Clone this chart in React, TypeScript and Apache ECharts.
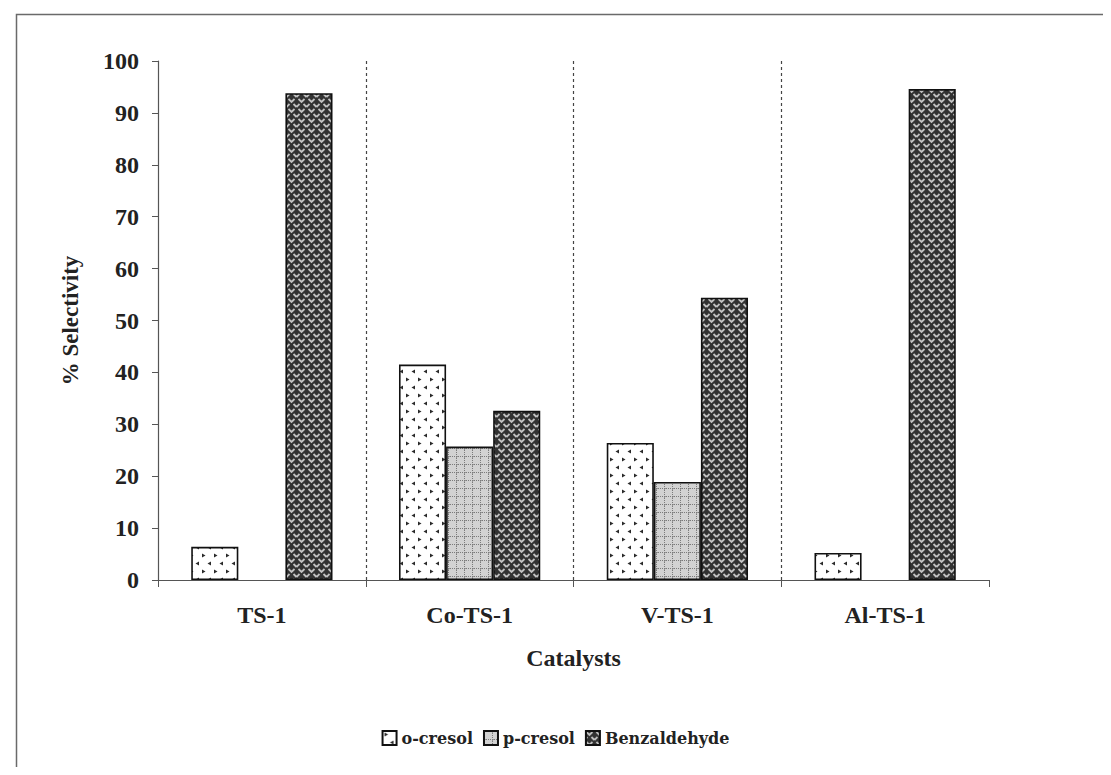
import React, { useEffect, useRef } from "react";
import * as echarts from "echarts";

const categories = ["TS-1", "Co-TS-1", "V-TS-1", "Al-TS-1"];
const seriesNames = ["o-cresol", "p-cresol", "Benzaldehyde"];
const oCresol = [6.4, 41.5, 26.4, 5.2];
const pCresol = [null, 25.7, 18.9, null];
const benzaldehyde = [93.8, 32.6, 54.4, 94.6];
const yTicks = { min: 0, max: 100, interval: 10 };
const boundaries = [1, 2, 3];

function makeTile(w: number, h: number, draw: (c: CanvasRenderingContext2D) => void) {
  const cv = document.createElement("canvas");
  cv.width = w;
  cv.height = h;
  const ctx = cv.getContext("2d")!;
  draw(ctx);
  return { image: cv, repeat: "repeat", imageWidth: w, imageHeight: h } as any;
}

const dotsPattern = () =>
  makeTile(12, 16, (c) => {
    c.fillStyle = "#ffffff";
    c.fillRect(0, 0, 12, 16);
    c.fillStyle = "#2a2a2a";
    c.beginPath(); c.moveTo(2, 1.5); c.lineTo(5.5, 3.5); c.lineTo(2, 5.5); c.fill();
    c.beginPath(); c.moveTo(11, 9.5); c.lineTo(7.5, 11.5); c.lineTo(11, 13.5); c.fill();
  });

const gridPattern = () =>
  makeTile(8, 8, (c) => {
    c.fillStyle = "#d2d2d2";
    c.fillRect(0, 0, 8, 8);
    c.fillStyle = "#7a7a7a";
    for (let i = 0; i < 8; i += 2) {
      c.fillRect(i, 0, 1, 1);
      c.fillRect(0, i, 1, 1);
    }
    c.fillStyle = "#999999";
    c.fillRect(1, 0, 1, 1);
    c.fillRect(0, 1, 1, 1);
  });

const weavePattern = () =>
  makeTile(10, 10, (c) => {
    c.fillStyle = "#323232";
    c.fillRect(0, 0, 10, 10);
    c.strokeStyle = "#c2c2c2";
    c.lineWidth = 1.8;
    c.lineCap = "butt";
    c.beginPath();
    c.moveTo(0.5, 1); c.lineTo(3.5, 4); c.lineTo(6.5, 1);
    c.moveTo(5.5, 6); c.lineTo(8.5, 9);
    c.moveTo(-1.5, 9); c.lineTo(1.5, 6);
    c.moveTo(8.5, 9); c.lineTo(11.5, 6);
    c.stroke();
  });

export default function App() {
  const ref = useRef<HTMLDivElement>(null);
  useEffect(() => {
    const chart = echarts.init(ref.current!, undefined, { renderer: "svg" });
    const serif = "'Liberation Serif', 'Times New Roman', serif";
    const patterns = [dotsPattern(), gridPattern(), weavePattern()];
    const datas = [oCresol, pCresol, benzaldehyde];
    chart.setOption({
      animation: false,
      backgroundColor: "#ffffff",
      graphic: [
        {
          type: "rect",
          left: 6,
          top: 4,
          shape: { width: 1200, height: 800 },
          style: { fill: "none", stroke: "#6a6a6a", lineWidth: 1.5 },
          z: -1,
        },
      ],
      grid: { left: 150, right: 114, top: 53, bottom: 187 },
      legend: {
        bottom: 16,
        left: "center",
        data: seriesNames,
        itemWidth: 14,
        itemHeight: 14,
        itemGap: 10,
        icon: "rect",
        textStyle: {
          fontFamily: "'DejaVu Serif', serif",
          fontWeight: "bold",
          fontSize: 16,
          color: "#222",
          padding: [0, 0, 0, 0],
        },
      },
      xAxis: [
        {
          type: "category",
          data: categories,
          boundaryGap: true,
          name: "Catalysts",
          nameLocation: "middle",
          nameGap: 66,
          nameTextStyle: { fontFamily: serif, fontWeight: "bold", fontSize: 24, color: "#222" },
          axisLine: { lineStyle: { color: "#555", width: 1.2 } },
          axisTick: { show: true, length: 7, lineStyle: { color: "#555" } },
          axisLabel: { fontFamily: serif, fontWeight: "bold", fontSize: 24, color: "#222", margin: 23 },
          splitLine: { show: false },
        },
        {
          type: "value",
          min: 0,
          max: 4,
          show: false,
        },
      ],
      yAxis: {
        type: "value",
        min: yTicks.min,
        max: yTicks.max,
        interval: yTicks.interval,
        name: "% Selectivity",
        nameLocation: "middle",
        nameGap: 76,
        nameRotate: 90,
        nameTextStyle: { fontFamily: serif, fontWeight: "bold", fontSize: 23, color: "#222" },
        axisLine: { show: true, lineStyle: { color: "#555", width: 1.2 } },
        axisTick: { show: true, inside: false, length: 6, lineStyle: { color: "#555" } },
        axisLabel: { fontFamily: serif, fontWeight: "bold", fontSize: 24, color: "#222", margin: 19 },
        splitLine: { show: false },
      },
      series: [
        ...seriesNames.map((name, i) => ({
          name,
          type: "bar",
          data: datas[i],
          barGap: "0%",
          barCategoryGap: "32%",
          itemStyle: { color: patterns[i], borderColor: "#111", borderWidth: 1.6 },
        })),
        {
          name: "bounds",
          type: "line",
          xAxisIndex: 1,
          data: [],
          silent: true,
          markLine: {
            silent: true,
            symbol: "none",
            label: { show: false },
            lineStyle: { type: [3, 3], color: "#444", width: 1.2 },
            data: boundaries.map((b) => ({ xAxis: b })),
          },
        },
      ],
    });
    return () => chart.dispose();
  }, []);
  return <div ref={ref} style={{ width: 1095, height: 759 }} />;
}
